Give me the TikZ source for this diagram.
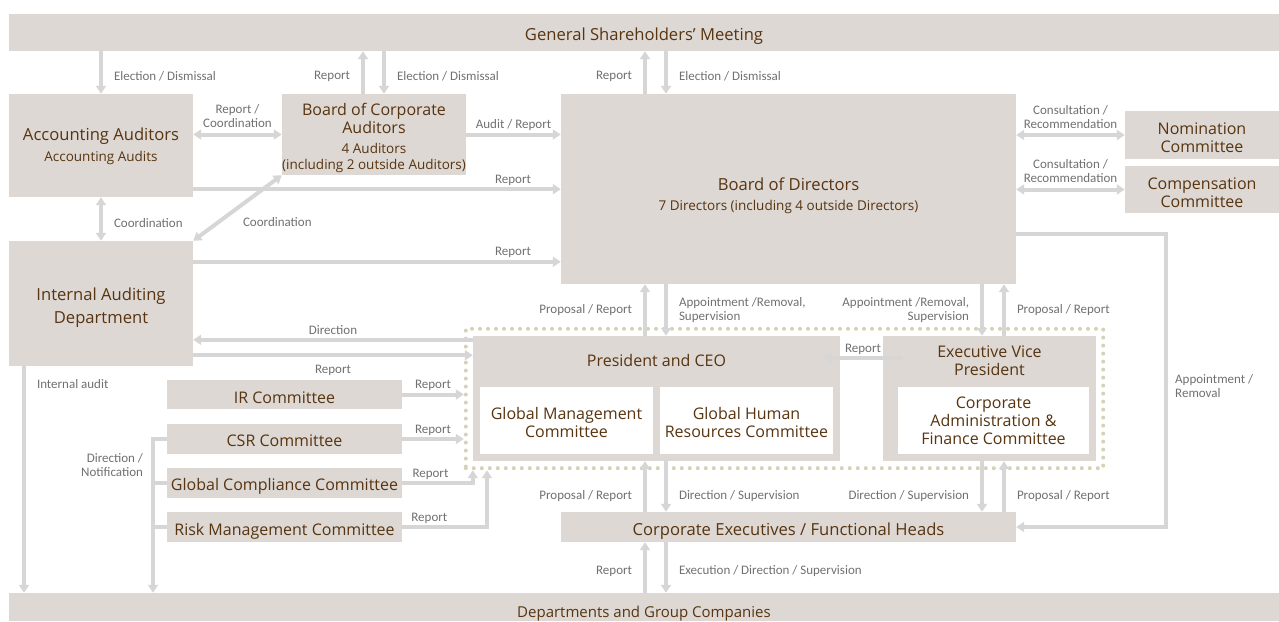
\documentclass[tikz,border=0pt]{standalone}
\usepackage{fontspec}
\setmainfont{Open Sans}
\newfontfamily\lblfont{Carlito}
\usetikzlibrary{arrows.meta,fit,positioning}
\definecolor{boxgray}{RGB}{221,216,211}
\definecolor{txtbrown}{RGB}{88,52,16}
\definecolor{arrgray}{RGB}{214,214,214}
\definecolor{lblgray}{RGB}{112,112,112}
\definecolor{dotbeige}{RGB}{214,210,180}
\newcommand\subsz{\fontsize{13.5}{16}\selectfont}

\begin{document}
\begin{tikzpicture}[x=1pt,y=-1pt,
  box/.style={fill=boxgray,inner sep=0pt},
  wbox/.style={box,fill=white},
  ttl/.style={text=txtbrown,inner sep=0pt,align=center,font=\fontsize{16}{18}\selectfont},
  big/.style={font=\fontsize{16.6}{18}\selectfont},
  txt/.style 2 args={label={[ttl,yshift=#1]center:#2}},
  bigtxt/.style 2 args={label={[ttl,big,yshift=#1]center:#2}},
  lbl/.style={text=lblgray,inner sep=1pt,align=center,font=\lblfont\fontsize{13}{14}\selectfont},
  arr/.style={draw=arrgray,line width=4pt,-{Triangle[width=10pt,length=8pt]}},
  arr2/.style={arr,{Triangle[width=10pt,length=8pt]}-{Triangle[width=10pt,length=8pt]}},
  ln/.style={draw=arrgray,line width=4pt}]
  \useasboundingbox (0,0) rectangle (1279,621);

  \node[box,minimum width=1270pt,minimum height=37pt,bigtxt={-4pt}{General Shareholders' Meeting}] (gsm) at (644,32.5) {};
  \node[box,minimum width=184pt,minimum height=103pt,bigtxt={-1pt}{Accounting Auditors\\[3pt]\subsz Accounting Audits}] (aa) at (101,145.5) {};
  \node[box,minimum width=184pt,minimum height=81pt,txt={-3pt}{Board of Corporate\\Auditors\\[2pt]\subsz 4 Auditors\\[-2pt]\subsz (including 2 outside Auditors)}] (bca) at (374,134.5) {};
  \node[box,minimum width=455pt,minimum height=190pt,bigtxt={-7pt}{Board of Directors\\[2pt]\subsz 7 Directors (including 4 outside Directors)}] (bod) at (788.5,189) {};
  \node[box,minimum width=154pt,minimum height=48pt,txt={-3pt}{Nomination\\Committee}] (nom) at (1202,135) {};
  \node[box,minimum width=154pt,minimum height=47pt,txt={-3pt}{Compensation\\Committee}] (comp) at (1202,189.5) {};
  \node[box,minimum width=184pt,minimum height=125pt,bigtxt={-4.5pt}{Internal Auditing\\[5pt]Department}] (iad) at (101,303.5) {};
  \node[box,minimum width=367pt,minimum height=125pt] (pres) at (656.5,398.5) {};
  \node[ttl] (prest) at ([yshift=-25pt]pres.north) {President and CEO};
  \node[wbox,minimum width=173pt,minimum height=67pt,txt={-2pt}{Global Management\\Committee}] (gmc) at (566.5,420.5) {};
  \node[wbox,minimum width=173pt,minimum height=67pt,txt={-2pt}{Global Human\\Resources Committee}] (ghrc) at (746.5,420.5) {};
  \node[box,minimum width=213pt,minimum height=125pt] (evp) at (989.5,398.5) {};
  \node[ttl] (evpt) at ([yshift=-25pt]evp.north) {Executive Vice\\President};
  \node[wbox,minimum width=191pt,minimum height=67pt,txt={0pt}{Corporate\\Administration \&\\Finance Committee}] (cafc) at (993.5,420.5) {};
  \node[draw=dotbeige,line width=4pt,line cap=round,dash pattern=on 0pt off 8pt,inner sep=7pt,fit=(pres)(evp)] (grp) {};
  \node[box,minimum width=235pt,minimum height=29pt,txt={-3pt}{IR Committee}] (ir) at (284.5,394.5) {};
  \node[box,minimum width=235pt,minimum height=30pt,txt={-2pt}{CSR Committee}] (csr) at (284.5,439) {};
  \node[box,minimum width=235pt,minimum height=30pt,txt={-3pt}{Global Compliance Committee}] (gcc) at (284.5,483) {};
  \node[box,minimum width=235pt,minimum height=30pt,txt={-4pt}{Risk Management Committee}] (rmc) at (284.5,527) {};
  \node[box,minimum width=455pt,minimum height=30pt,bigtxt={-4pt}{Corporate Executives / Functional Heads}] (cef) at (788.5,527) {};
  \node[box,minimum width=1270pt,minimum height=28pt,label={[ttl,font=\fontsize{15}{18}\selectfont,yshift=-6.5pt]center:Departments and Group Companies}] (dep) at (644,607) {};

  \coordinate (upx) at (645,0);
  \coordinate (dnx) at (666,0);
  \coordinate (evdn) at (982,0);
  \coordinate (evup) at (1004,0);
  \coordinate (bcup) at (363,0);
  \coordinate (bcdn) at (384,0);
  \coordinate (rmup) at (487,0);
  \coordinate (ntf) at (153,0);
  \coordinate (iax) at (24,0);

  \draw[arr] (gsm.south -| aa.north) -- node[lbl,pos=0.6,right=10pt] {Election / Dismissal} (aa.north);
  \draw[arr] (bca.north -| bcup) -- node[lbl,pos=0.4,left=10pt] {Report} (gsm.south -| bcup);
  \draw[arr] (gsm.south -| bcdn) -- node[lbl,pos=0.6,right=10pt] {Election / Dismissal} (bca.north -| bcdn);
  \draw[arr] (bod.north -| upx) -- node[lbl,pos=0.4,left=10pt] {Report} (gsm.south -| upx);
  \draw[arr] (gsm.south -| dnx) -- node[lbl,pos=0.6,right=10pt] {Election / Dismissal} (bod.north -| dnx);
  \draw[arr2] (aa.east |- bca.west) -- node[lbl,above=3.5pt] {Report /\\Coordination} (bca.west);
  \draw[arr] (bca.east) -- node[lbl,above=1pt] {Audit / Report} (bca.east -| bod.west);
  \draw[arr] ([yshift=8pt]aa.south east) coordinate (aar) -- node[lbl,pos=0.87,above=1pt] {Report} (aar -| bod.west);
  \draw[arr] ([yshift=-21pt]iad.north east) coordinate (iar) -- node[lbl,pos=0.87,above=1pt] {Report} (iar -| bod.west);
  \draw[arr2] (aa.south) -- node[lbl,pos=0.6,right=10pt] {Coordination} (iad.north);
  \draw[arr2] (bca.south west) -- node[lbl,pos=0.72,right=22pt] {Coordination} (iad.north east);
  \draw[arr2] (bod.east |- nom.west) -- node[lbl,above=3.5pt] {Consultation /\\Recommendation} (nom.west);
  \draw[arr2] (bod.east |- comp.west) -- node[lbl,above=3.5pt] {Consultation /\\Recommendation} (comp.west);
  \draw[arr] ([yshift=-45pt]bod.east) -| node[lbl,pos=0.76,right=6pt,align=left] {Appointment /\\Removal} ([xshift=150pt]cef.east) -- (cef.east);

  \draw[arr] (pres.north -| upx) -- node[lbl,left=10pt] {Proposal / Report} (bod.south -| upx);
  \draw[arr] (bod.south -| dnx) -- node[lbl,right=10pt,align=left] {Appointment /Removal,\\Supervision} (pres.north -| dnx);
  \draw[arr] (bod.south -| evdn) -- node[lbl,left=10pt,align=right] {Appointment /Removal,\\Supervision} (evp.north -| evdn);
  \draw[arr] (evp.north -| evup) -- node[lbl,right=10pt] {Proposal / Report} (bod.south -| evup);
  \draw[arr] ([shift={(20pt,-22pt)}]evp.north west) -- node[lbl,above=0pt] {Report} ([shift={(-17pt,-22pt)}]pres.north east);
  \draw[arr] (cef.north -| upx) -- node[lbl,pos=0.32,left=10pt] {Proposal / Report} (pres.south -| upx);
  \draw[arr] (pres.south -| dnx) -- node[lbl,pos=0.68,right=10pt] {Direction / Supervision} (cef.north -| dnx);
  \draw[arr] (evp.south -| evdn) -- node[lbl,pos=0.68,left=10pt] {Direction / Supervision} (cef.north -| evdn);
  \draw[arr] (cef.north -| evup) -- node[lbl,pos=0.32,right=10pt] {Proposal / Report} (evp.south -| evup);
  \draw[arr] (dep.north -| upx) -- node[lbl,pos=0.43,left=10pt] {Report} (cef.south -| upx);
  \draw[arr] (cef.south -| dnx) -- node[lbl,pos=0.57,right=10pt] {Execution / Direction / Supervision} (dep.north -| dnx);

  \draw[arr] ([yshift=-4pt]pres.north west) coordinate (dir) -- node[lbl,above=2pt] {Direction} (dir -| iad.east);
  \draw[arr] ([yshift=11pt]iad.south east) coordinate (irp) -- node[lbl,below=7pt] {Report} (irp -| pres.west);
  \draw[arr] (ir.east) -- node[lbl,above=0.5pt] {Report} (ir.east -| grp.west);
  \draw[arr] (csr.east) -- node[lbl,above=0.5pt] {Report} (csr.east -| grp.west);
  \draw[arr] (gcc.east) -| node[lbl,pos=0.2,above=0.5pt] {Report} (pres.west |- grp.south);
  \draw[arr] (rmc.east) -| node[lbl,pos=0.16,above=0.5pt] {Report} (rmup |- grp.south);
  \draw[arr] (iad.south -| iax) -- node[lbl,pos=0.08,right=10pt] {Internal audit} (dep.north -| iax);
  \draw[arr] (csr.west) -| node[lbl,pos=0.585,left=7pt,align=right] {Direction /\\Notification} (ntf |- dep.north);
  \draw[ln] (gcc.west) -- (gcc.west -| ntf);
  \draw[ln] (rmc.west) -- (rmc.west -| ntf);
\end{tikzpicture}
\end{document}
